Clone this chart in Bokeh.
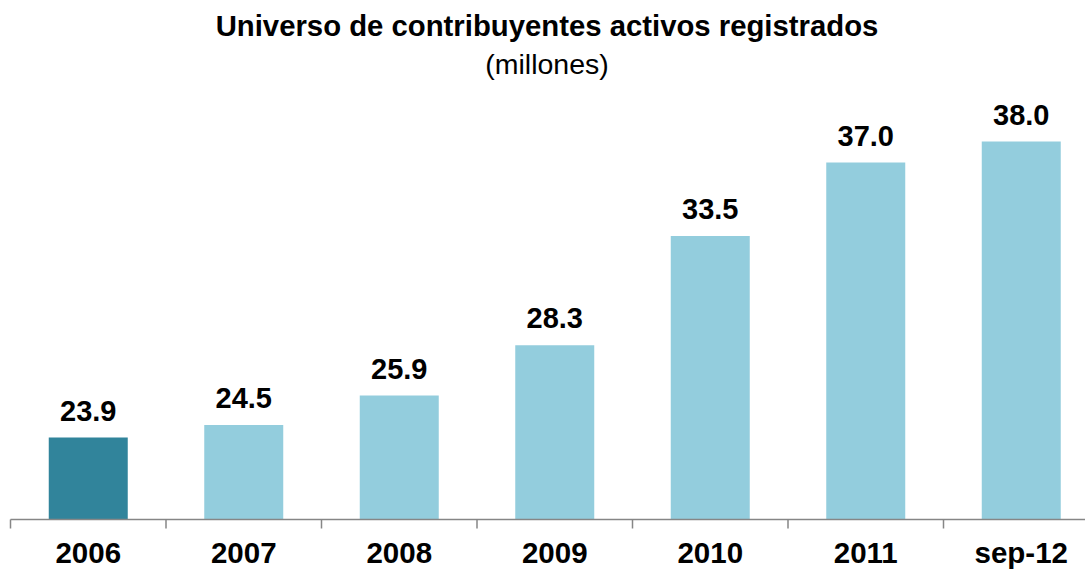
from bokeh.plotting import figure
from bokeh.models import Range1d, ColumnDataSource
from bokeh.core.properties import value
from bokeh.embed import file_html
from bokeh.resources import INLINE

categories = ["2006", "2007", "2008", "2009", "2010", "2011", "sep-12"]
values = [23.9, 24.5, 25.9, 28.3, 33.5, 37.0, 38.0]
value_labels = ["23.9", "24.5", "25.9", "28.3", "33.5", "37.0", "38.0"]
bar_colors = ["#31849B", "#93CDDD", "#93CDDD", "#93CDDD", "#93CDDD", "#93CDDD", "#93CDDD"]
title_text = "Universo de contribuyentes activos registrados"
subtitle_text = "(millones)"

FONT = value("Liberation Sans")
W, H = 1085, 569          # canvas as captured at picture (0, 0)
PAGE = 0
left_px = 10              # picture x of category 0 boundary
cat_px = 155.5            # pixels per category
axis_px = 519             # picture y of value 20 (baseline)
px_per_unit = 21.0
y0 = 20
TXT = 9                   # text is drawn this many px below its anchor


def ydata(page_y):
    return y0 + (axis_px - page_y) / px_per_unit


def xdata(page_x):
    return (page_x - left_px) / cat_px


p = figure(width=W, height=H, output_backend="svg", toolbar_location=None,
           x_range=Range1d(xdata(PAGE), xdata(PAGE + W)),
           y_range=Range1d(ydata(PAGE + H), ydata(PAGE)),
           x_axis_location=None, y_axis_location=None,
           min_border_left=0, min_border_right=0, min_border_top=0, min_border_bottom=0)
p.grid.visible = False
p.outline_line_color = None
p.background_fill_color = "white"
p.border_fill_color = "white"

n = len(categories)
xs = [i + 0.5 for i in range(n)]
src = ColumnDataSource(dict(x=xs, top=values, color=bar_colors, lab=value_labels,
                            laby=[v + (18 + TXT) / px_per_unit for v in values], cat=categories))
p.vbar(x="x", top="top", bottom=y0, width=0.508, fill_color="color", line_color=None, source=src)
p.text(x="x", y="laby", text="lab", source=src, text_align="center", text_baseline="alphabetic",
       text_font=FONT, text_font_style="bold", text_font_size="29px", text_color="black")

# category axis: line, boundary ticks, labels
p.segment(x0=[0], y0=[y0], x1=[xdata(PAGE + W)], y1=[y0], line_color="#868686", line_width=1.5)
bounds = list(range(n + 1))
p.segment(x0=bounds, y0=[y0] * len(bounds), x1=bounds, y1=[y0 - 9 / px_per_unit] * len(bounds),
          line_color="#868686", line_width=1.5)
p.text(x="x", y=ydata(561 - TXT), text="cat", source=src, text_align="center", text_baseline="alphabetic",
       text_font=FONT, text_font_style="bold", text_font_size="29.5px", text_color="black")

cx = xdata(546.5)
p.text(x=[cx], y=[ydata(34 - TXT)], text=[title_text], text_align="center", text_baseline="alphabetic",
       text_font=FONT, text_font_style="bold", text_font_size="29.3px", text_color="black")
p.text(x=[cx], y=[ydata(72 - TXT)], text=[subtitle_text], text_align="center", text_baseline="alphabetic",
       text_font=FONT, text_font_size="28.5px", text_color="black")

open("out.html", "w").write(file_html(p, INLINE))
